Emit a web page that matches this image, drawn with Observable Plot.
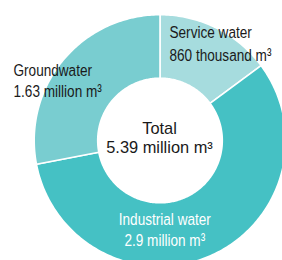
<!DOCTYPE html>
<html><head><meta charset="utf-8">
<script src="https://cdn.jsdelivr.net/npm/d3@7"></script>
<script src="https://cdn.jsdelivr.net/npm/@observablehq/plot@0.6"></script>
<style>html,body{margin:0;padding:0;background:#fff} svg{display:block}</style>
</head><body><div id="chart"></div>
<script>
// Data
const categories = ["Service water", "Industrial water", "Groundwater"];
const shares = [0.80, 3.08, 1.51];               // arc sizes as drawn (million m³)
const valueLabels = ["860 thousand m³", "2.9 million m³", "1.63 million m³"];
const totalLabels = ["Total", "5.39 million m³"];
const colors = ["#a6dcde", "#45c1c4", "#79cdd0"];

// Layout
const W = 282, H = 260, cx = 159.5, cy = 140, R = 125.8, r = 62.3;
const font = "'Liberation Sans', Arial, Helvetica, sans-serif";
const condense = 0.8;
// label anchors in pixels: x (left or centre), baseline of last line, line spacing (px)
const labelPos = {
  "Service water":    {x: 169,   y: 60.7,  lh: 23.2, anchor: "start",  fill: "#1a1a1a", size: 17},
  "Groundwater":      {x: 13,    y: 96.7,  lh: 21.7, anchor: "start",  fill: "#1a1a1a", size: 17},
  "Industrial water": {x: 164.3, y: 245,   lh: 20.5, anchor: "middle", fill: "#ffffff", size: 17}
};
const totalPos = {x: 159, y: 152.5, lh: 19.5, size: 16.4};

const arcs = d3.pie().sort(null).value(d => d.value)(
  categories.map((c, i) => ({category: c, value: shares[i]})));
const ring = [];
for (const a of arcs) {
  const n = Math.max(8, Math.ceil((a.endAngle - a.startAngle) * 60));
  for (let k = 0; k <= n; k++) {
    const t = a.startAngle + (a.endAngle - a.startAngle) * k / n;
    ring.push({category: a.data.category, x: Math.sin(t) * R, y: -Math.cos(t) * R});
  }
  for (let k = n; k >= 0; k--) {
    const t = a.startAngle + (a.endAngle - a.startAngle) * k / n;
    ring.push({category: a.data.category, x: Math.sin(t) * r, y: -Math.cos(t) * r});
  }
}

const labelMarks = categories.map((c, i) => {
  const p = labelPos[c];
  return Plot.text([c + "\n" + valueLabels[i]], {
    x: () => p.x - cx, y: () => p.y - cy, text: d => d,
    textAnchor: p.anchor, lineAnchor: "bottom", lineHeight: p.lh / p.size,
    fill: p.fill, fontSize: p.size
  });
});

const chart = Plot.plot({
  width: W, height: H,
  margin: 0,
  x: {domain: [-cx, W - cx], range: [0, W], axis: null},
  y: {domain: [-cy, H - cy], range: [0, H], axis: null},
  color: {domain: categories, range: colors},
  style: {fontFamily: font, background: "#fff"},
  marks: [
    Plot.line(ring, {x: "x", y: "y", z: "category", fill: "category",
      stroke: "#ffffff", strokeWidth: 1.6, curve: "linear-closed"}),
    ...labelMarks,
    Plot.text([totalLabels.join("\n")], {x: () => totalPos.x - cx, y: () => totalPos.y - cy,
      text: d => d, textAnchor: "middle", lineAnchor: "bottom",
      lineHeight: totalPos.lh / totalPos.size, fill: "#1a1a1a", fontSize: totalPos.size})
  ]
});
// horizontally condense the slice labels (narrow type as in the original)
chart.querySelectorAll("text").forEach(t => {
  const s = t.textContent || "";
  if (!categories.some(c => s.includes(c))) return;
  const tr = t.getAttribute("transform");
  if (tr) {
    t.setAttribute("transform", tr + ` scale(${condense},1)`);
  } else {
    const x = +t.getAttribute("x") || 0, y = +t.getAttribute("y") || 0;
    t.removeAttribute("x"); t.removeAttribute("y");
    t.setAttribute("transform", `translate(${x},${y}) scale(${condense},1)`);
  }
});
document.getElementById("chart").appendChild(chart);
</script>
</body></html>
